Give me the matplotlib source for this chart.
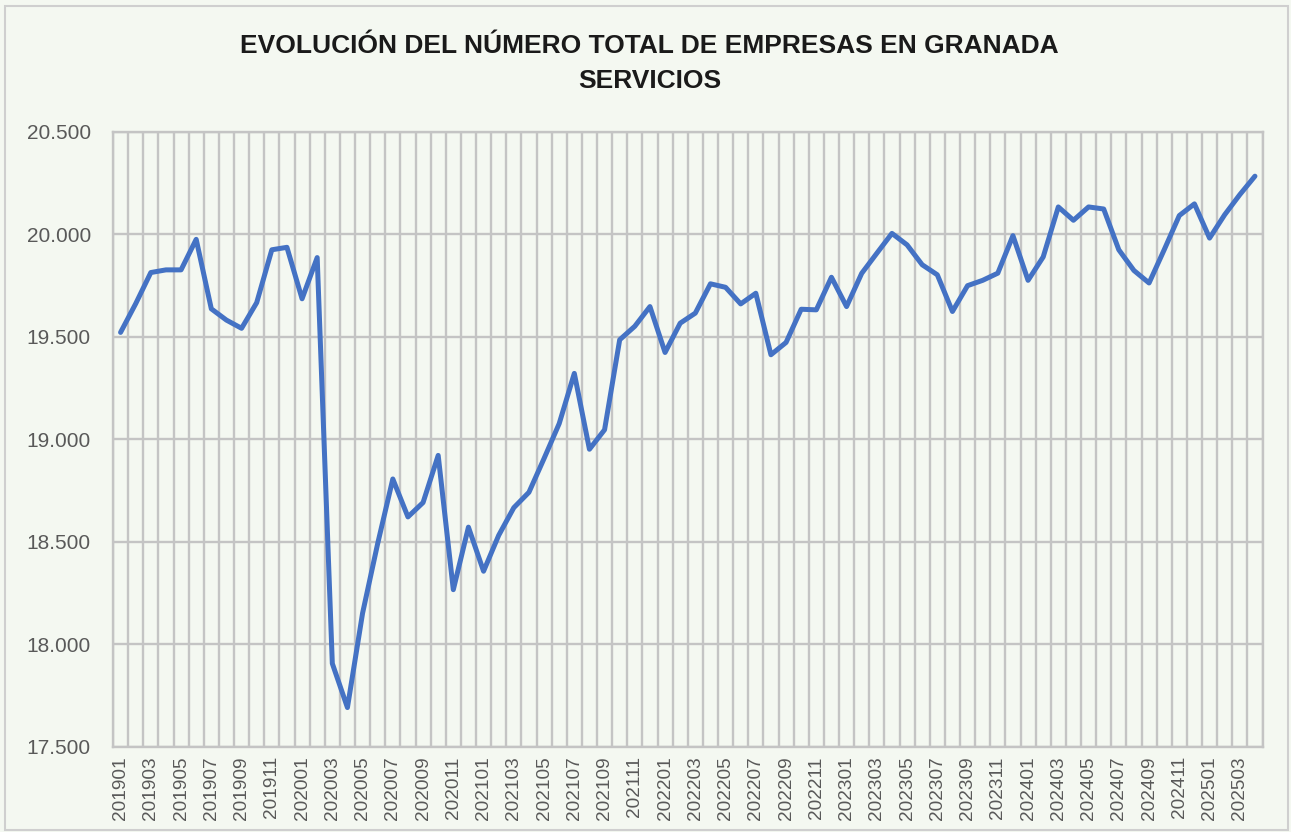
import matplotlib
matplotlib.use("Agg")
import matplotlib.pyplot as plt
from matplotlib.ticker import FixedLocator, FuncFormatter
from matplotlib.patches import Rectangle

# Monthly periods (YYYYMM) from January 2019 to April 2025
periods = [f"{y}{m:02d}" for y in range(2019, 2026) for m in range(1, 13)][:76]

# Total number of companies, services sector, Granada
empresas = [
    19520, 19660, 19812, 19825, 19825, 19974, 19635, 19580, 19540, 19665,
    19923, 19935, 19684, 19885, 17905, 17690, 18150, 18490, 18805, 18620,
    18690, 18920, 18265, 18570, 18355, 18530, 18665, 18740, 18905, 19075,
    19320, 18950, 19045, 19484, 19550, 19646, 19422, 19565, 19614, 19757,
    19740, 19659, 19711, 19411, 19471, 19633, 19630, 19789, 19646, 19808,
    19906, 20003, 19947, 19850, 19801, 19622, 19748, 19774, 19809, 19992,
    19774, 19888, 20132, 20067, 20132, 20122, 19923, 19822, 19761, 19923,
    20090, 20147, 19980, 20094, 20192, 20282,
]

title_lines = ["EVOLUCIÓN DEL NÚMERO TOTAL DE EMPRESAS EN GRANADA", "SERVICIOS"]
y_ticks = [17500, 18000, 18500, 19000, 19500, 20000, 20500]

plt.rcParams["font.family"] = ["Liberation Sans", "DejaVu Sans"]

bg = "#F4F8F1"
grid_c = "#C4C4C4"
text_c = "#595959"

fig = plt.figure(figsize=(12.91, 8.32), dpi=100, facecolor=bg)
ax = fig.add_axes([113 / 1291, 1 - 746.5 / 832, (1262.5 - 113) / 1291, (746.5 - 131.5) / 832])
ax.set_facecolor(bg)

x = list(range(len(empresas)))
ax.plot(x, empresas, color="#4472C4", linewidth=3.6, solid_joinstyle="round",
        solid_capstyle="round", zorder=3)

ax.set_xlim(-0.5, len(empresas) - 0.5)
ax.set_ylim(y_ticks[0], y_ticks[-1])

# Category boundaries as vertical grid lines
ax.xaxis.set_minor_locator(FixedLocator([i - 0.5 for i in range(len(empresas) + 1)]))
ax.set_xticks(x[::2])
ax.set_xticklabels(periods[::2], rotation=90, fontsize=13.7, color=text_c)
ax.set_yticks(y_ticks)
ax.yaxis.set_major_formatter(FuncFormatter(lambda v, p: f"{v:,.0f}".replace(",", ".")))
for lab in ax.get_yticklabels():
    lab.set_fontsize(15)
    lab.set_color(text_c)

ax.grid(which="minor", axis="x", color=grid_c, linewidth=1.7, zorder=1)
ax.grid(which="major", axis="y", color=grid_c, linewidth=1.7, zorder=1)
ax.grid(which="major", axis="x", visible=False)
ax.tick_params(axis="both", which="both", length=0)
ax.tick_params(axis="y", pad=16)
ax.tick_params(axis="x", pad=7)
for s in ax.spines.values():
    s.set_color(grid_c)
    s.set_linewidth(1.7)

fig.text(0.503, 1 - 46 / 832, title_lines[0], ha="center", va="center",
         fontsize=19, fontweight="bold", color="#1a1a1a")
fig.text(0.503, 1 - 81 / 832, title_lines[1], ha="center", va="center",
         fontsize=19, fontweight="bold", color="#1a1a1a")

fig.patches.append(Rectangle((5 / 1291, 2 / 832), 1 - 8 / 1291, 1 - 8 / 832,
                             transform=fig.transFigure, fill=False,
                             edgecolor="#CFCFCF", linewidth=1.5))

fig.savefig("out.png", dpi=100, facecolor=bg)
